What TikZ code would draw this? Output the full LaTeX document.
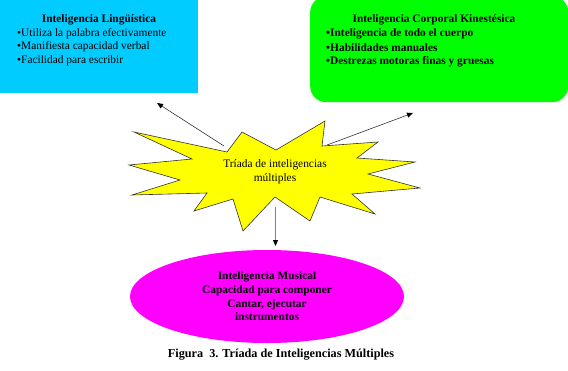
\documentclass[tikz,border=0pt]{standalone}
\usepackage{fontspec}
\setmainfont{Liberation Serif}
\usetikzlibrary{arrows.meta,shapes.geometric}
\definecolor{boxcyan}{HTML}{00CCFF}
\definecolor{boxgreen}{HTML}{00FF00}
\definecolor{staryellow}{HTML}{FFFF00}
\definecolor{ellmag}{HTML}{FF00FF}
\tikzset{
  txt/.style={inner sep=0pt, font=\fontsize{11.4}{13.5}\selectfont},
  btxt/.style={inner sep=0pt, font=\fontsize{11.4}{13.5}\selectfont\bfseries},
  conn/.style={line width=0.6pt, black!80, -{Triangle[length=6pt,width=5pt,color=black]}},
}
\begin{document}
\begin{tikzpicture}[x=1pt,y=-1pt]
\useasboundingbox (0,0) rectangle (568,370);
% blue box
\node (ling) [fill=boxcyan, inner sep=0pt, minimum width=198pt, minimum height=93pt, anchor=north west] at (0,0) {};
\node (lt) [btxt] at (99,20) {Inteligencia Lingüística};
\node (l1) [txt, anchor=west] at (17,33.5) {•Utiliza la palabra efectivamente};
\node (l2) [txt, anchor=west] at (17,47) {•Manifiesta capacidad verbal};
\node (l3) [txt, anchor=west] at (17,60.5) {•Facilidad para escribir};
% green box
\node (corp) [fill=boxgreen, rounded corners=16pt, inner sep=0pt, minimum width=258pt, minimum height=106pt, anchor=north west] at (310,-4) {};
\node (ct) [btxt] at (434,20) {Inteligencia Corporal Kinestésica};
\node (c1) [btxt, anchor=west] at (326,33.5) {•Inteligencia de todo el cuerpo};
\node (c2) [btxt, anchor=west] at (326,47.5) {•Habilidades manuales};
\node (c3) [btxt, anchor=west] at (326,61.5) {•Destrezas motoras finas y gruesas};
% star
\draw[fill=staryellow, draw=black!80, line width=0.6pt, line join=miter]
  (134,132) -- (227,152) -- (242,132) -- (276,150) -- (325,121) -- (322,146)
  -- (378,142) -- (357,158) -- (415,162) -- (368,174) -- (420,188) -- (352,194)
  -- (375,214) -- (320,197) -- (310,221) -- (275,197) -- (243,231) -- (233,199)
  -- (194,211) -- (207,193) -- (132,195) -- (180,180) -- (129,165) -- (192,159) -- cycle;
\node (star) [txt, align=center, font=\fontsize{11.4}{14}\selectfont] at (275,172) {Tríada de inteligencias\\múltiples};
% ellipse
\node (mus) [ellipse, fill=ellmag, inner sep=0pt, minimum width=274pt, minimum height=93pt, align=center, font=\fontsize{11.4}{13.7}\selectfont\bfseries] at (267,296.5) {Inteligencia Musical\\Capacidad para componer\\Cantar, ejecutar\\instrumentos};
% connectors
\coordinate (s1) at (224,146);
\coordinate (e1) at (157,103);
\coordinate (s2) at (327,145);
\coordinate (e2) at (413,113);
\coordinate (s3) at (275.5,207);
\coordinate (e3) at (275.5,246);
\draw[conn] (s1) -- (e1);
\draw[conn] (s2) -- (e2);
\draw[conn, line width=0.8pt, black!50] (s3) -- (e3);
% caption
\node (cap) [inner sep=0pt, font=\fontsize{12.2}{14}\selectfont\bfseries] at (281,355) {Figura\ \ 3. Tríada de Inteligencias Múltiples};
\end{tikzpicture}
\end{document}
